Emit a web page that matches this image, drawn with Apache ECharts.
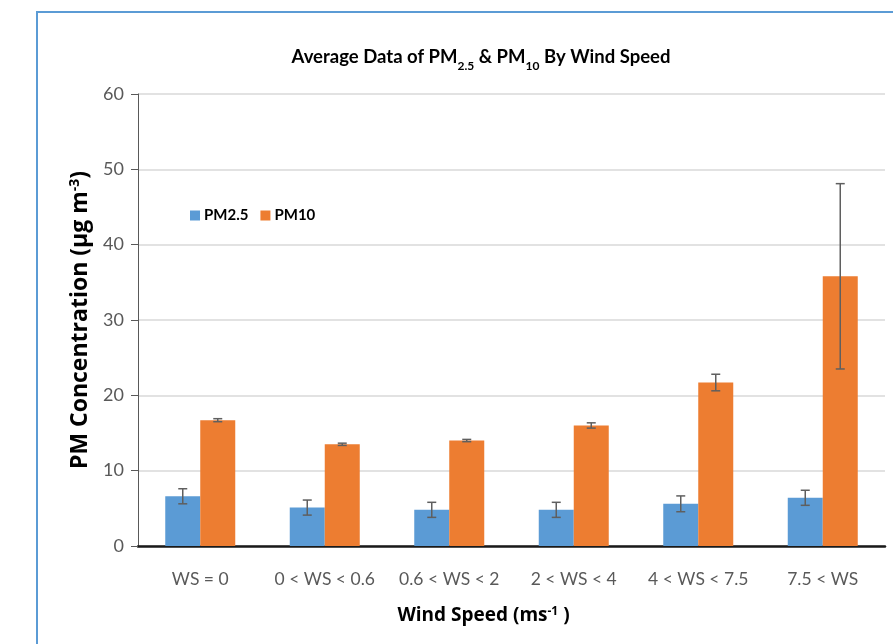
<!DOCTYPE html>
<html><head><meta charset="utf-8">
<script src="https://cdn.jsdelivr.net/npm/echarts@6/dist/echarts.min.js"></script>
<style>html,body{margin:0;padding:0;background:#fff}#c{width:893px;height:644px}</style>
</head><body><div id="c"></div>
<script>
const categories = ['WS = 0', '0 < WS < 0.6', '0.6 < WS < 2', '2 < WS < 4', '4 < WS < 7.5', '7.5 < WS'];
const pm25 = [6.6, 5.1, 4.8, 4.8, 5.6, 6.4];
const pm25Err = [1.0, 1.0, 1.0, 1.0, 1.05, 1.0];
const pm10 = [16.7, 13.5, 14.0, 16.0, 21.7, 35.8];
const pm10Err = [0.2, 0.15, 0.15, 0.35, 1.1, 12.3];
const yTicks = [0, 10, 20, 30, 40, 50, 60];

const FONT = 'Lato';
const BOLD = 'Open Sans';
const BAR_W = 35;
const chart = echarts.init(document.getElementById('c'));

function errSeries(vals, errs, offset) {
  return {
    type: 'custom',
    z: 10,
    silent: true,
    data: vals.map((v, i) => [i, v, errs[i]]),
    renderItem: function (params, api) {
      const i = api.value(0), v = api.value(1), e = api.value(2);
      const top = api.coord([i, v + e]);
      const bot = api.coord([i, v - e]);
      const x = top[0] + offset;
      const cap = 4.5;
      const st = { stroke: '#5f5f5f', lineWidth: 1.5 };
      return {
        type: 'group',
        children: [
          { type: 'line', shape: { x1: x, y1: top[1], x2: x, y2: bot[1] }, style: st },
          { type: 'line', shape: { x1: x - cap, y1: top[1], x2: x + cap, y2: top[1] }, style: st },
          { type: 'line', shape: { x1: x - cap, y1: bot[1], x2: x + cap, y2: bot[1] }, style: st }
        ]
      };
    }
  };
}

chart.setOption({
  animation: false,
  textStyle: { fontFamily: FONT },
  graphic: [{
    type: 'rect', shape: { x: 37, y: 12, width: 900, height: 700 },
    style: { fill: 'none', stroke: '#5B9BD5', lineWidth: 2 }, z: -1
  }],
  title: {
    text: '{a|Average Data of PM}{s|2.5}{a| & PM}{s|10}{a| By Wind Speed}',
    left: 476, top: 38, textAlign: 'center',
    textStyle: {
      rich: {
        a: { fontFamily: FONT, fontWeight: 'bold', fontSize: 18.5, color: '#000', lineHeight: 24, verticalAlign: 'bottom' },
        s: { fontFamily: FONT, fontWeight: 'bold', fontSize: 12, color: '#000', lineHeight: 24, verticalAlign: 'bottom', padding: [0, 0, -5, 0] }
      }
    }
  },
  legend: {
    left: 185, top: 203, itemWidth: 10, itemHeight: 10, itemGap: 12, icon: 'rect',
    data: ['PM2.5', 'PM10'],
    textStyle: { fontFamily: FONT, fontWeight: 'bold', fontSize: 15, color: '#000', padding: [0, 0, 0, -1] }
  },
  grid: { left: 138, right: 8, top: 94, bottom: 98 },
  xAxis: {
    type: 'category', data: categories,
    axisLine: { lineStyle: { color: '#1a1a1a', width: 2.5 } },
    axisTick: { show: false },
    axisLabel: { interval: 0, fontFamily: FONT, fontSize: 17.5, color: '#595959', margin: 24 },
    name: '{a|Wind Speed (ms}{s|-1}{a| )}', nameLocation: 'middle', nameGap: 55,
    nameTextStyle: {
      padding: [0, 56, 0, 0],
      rich: {
        a: { fontFamily: BOLD, fontWeight: 'bold', fontSize: 19, color: '#000', lineHeight: 24, verticalAlign: 'bottom' },
        s: { fontFamily: BOLD, fontWeight: 'bold', fontSize: 12, color: '#000', lineHeight: 24, verticalAlign: 'bottom', padding: [0, 0, 7, 0] }
      }
    }
  },
  yAxis: {
    type: 'value', min: 0, max: 60, interval: 10,
    axisLine: { show: true, lineStyle: { color: '#595959', width: 1 } },
    axisTick: { show: true, length: 7, lineStyle: { color: '#595959' } },
    axisLabel: { fontFamily: FONT, fontSize: 18, color: '#595959', margin: 14,
      formatter: v => yTicks.includes(v) ? String(v) : '' },
    splitLine: { lineStyle: { color: '#d9d9d9', width: 1.5 } },
    name: '{a|PM Concentration (μg m}{s|-3}{a|)}', nameLocation: 'middle', nameGap: 45, nameRotate: 90,
    nameTextStyle: {
      padding: [0, 0, 0, 0],
      rich: {
        a: { fontFamily: BOLD, fontWeight: 'bold', fontSize: 23, color: '#000', lineHeight: 28, verticalAlign: 'bottom' },
        s: { fontFamily: BOLD, fontWeight: 'bold', fontSize: 14, color: '#000', lineHeight: 28, verticalAlign: 'bottom', padding: [0, 0, 10, 0] }
      }
    }
  },
  series: [
    { name: 'PM2.5', type: 'bar', data: pm25, barWidth: BAR_W, barGap: '0%',
      itemStyle: { color: '#5B9BD5' } },
    { name: 'PM10', type: 'bar', data: pm10, barWidth: BAR_W, barGap: '0%',
      itemStyle: { color: '#ED7D31' } },
    errSeries(pm25, pm25Err, -BAR_W / 2),
    errSeries(pm10, pm10Err, BAR_W / 2)
  ]
});
</script></body></html>
